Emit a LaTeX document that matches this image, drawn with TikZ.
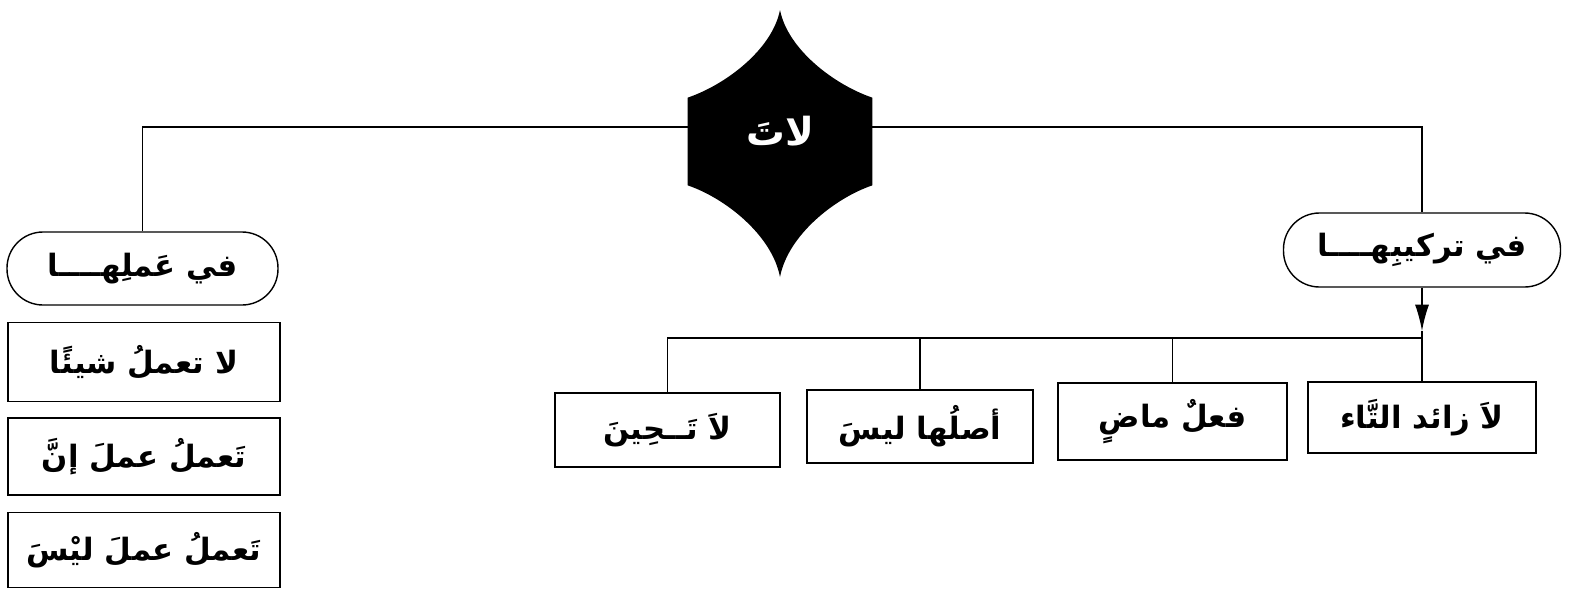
\documentclass[tikz,border=0pt]{standalone}
\usepackage{fontspec}
\newfontfamily\arabicfont[Script=Arabic]{DejaVu Sans}
\TeXXeTstate=1
\usetikzlibrary{arrows.meta}
\tikzset{
  conn/.style={draw=black,line width=0.8pt},
  txtbox/.style={draw=black,line width=0.8pt,rectangle,inner sep=0pt,
    font=\arabicfont\bfseries\fontsize{17.5}{20}\selectfont},
  pill/.style={txtbox,rounded corners=0.72cm},
}
\newcommand{\ar}[1]{\beginR #1\endR}
\begin{document}
\begin{tikzpicture}[x=0.02cm,y=-0.02cm]
\useasboundingbox (0,0) rectangle (1572,589);
\fill[white] (0,0) rectangle (1572,589);
% star
\node[minimum width=184*0.02cm,minimum height=87*0.02cm,inner sep=0pt] (star) at (780,141.5) {};
\fill[black] (star.north west) .. controls (725,85) and (772,50) .. (780,10)
  .. controls (788,50) and (835,85) .. (star.north east)
  -- (star.south east) .. controls (835,198) and (788,235) .. (780,277)
  .. controls (772,235) and (725,198) .. (star.south west) -- cycle;
\node[font=\arabicfont\bfseries\fontsize{22}{24}\selectfont,text=white,inner sep=0pt] (startxt) at (780,131) {\ar{لاتَ}};
% left branch
\node[pill,minimum width=271*0.02cm,minimum height=73*0.02cm] (lp) at (142.5,268.5) {\ar{في عَملِهــــا}};
\node[txtbox,minimum width=272*0.02cm,minimum height=79*0.02cm] (b1) at (144,362) {\ar{لا تعملُ شيئًا}};
\node[txtbox,minimum width=272*0.02cm,minimum height=77*0.02cm] (b2) at (144,456.5) {\ar{تَعملُ عملَ إنَّ}};
\node[txtbox,minimum width=272*0.02cm,minimum height=75*0.02cm] (b3) at (144,550) {\ar{تَعملُ عملَ ليْسَ}};
% right branch
\node[pill,minimum width=277*0.02cm,minimum height=74*0.02cm] (rp) at (1422,250) {\ar{في تركيبِهــــا}};
\node[txtbox,minimum width=228*0.02cm,minimum height=71*0.02cm] (r1) at (1422,417.5) {\ar{لاَ زائد التَّاء}};
\node[txtbox,minimum width=229*0.02cm,minimum height=77*0.02cm] (r2) at (1172.5,421.5) {\ar{فعلٌ ماضٍ}};
\node[txtbox,minimum width=226*0.02cm,minimum height=73*0.02cm] (r3) at (920,426.5) {\ar{أصلُها ليسَ}};
\node[txtbox,minimum width=225*0.02cm,minimum height=74*0.02cm] (r4) at (667.5,430) {\ar{لاَ تَــحِينَ}};
% connectors
\coordinate (hl) at (0,127);
\coordinate (bus) at (0,338);
\coordinate (ah) at (1422,331);
\draw[conn] (star.west |- hl) -| (lp.north);
\draw[conn] (star.east |- hl) -| (rp.north);
\draw[conn,-{Latex[length=15pt,width=8pt]}] (rp.south) -- (ah);
\draw[conn] (ah) -- (r1.north);
\draw[conn] (r1.north |- bus) -- (r4.north |- bus) -- (r4.north);
\draw[conn] (r2.north |- bus) -- (r2.north);
\draw[conn] (r3.north |- bus) -- (r3.north);
\end{tikzpicture}
\end{document}
